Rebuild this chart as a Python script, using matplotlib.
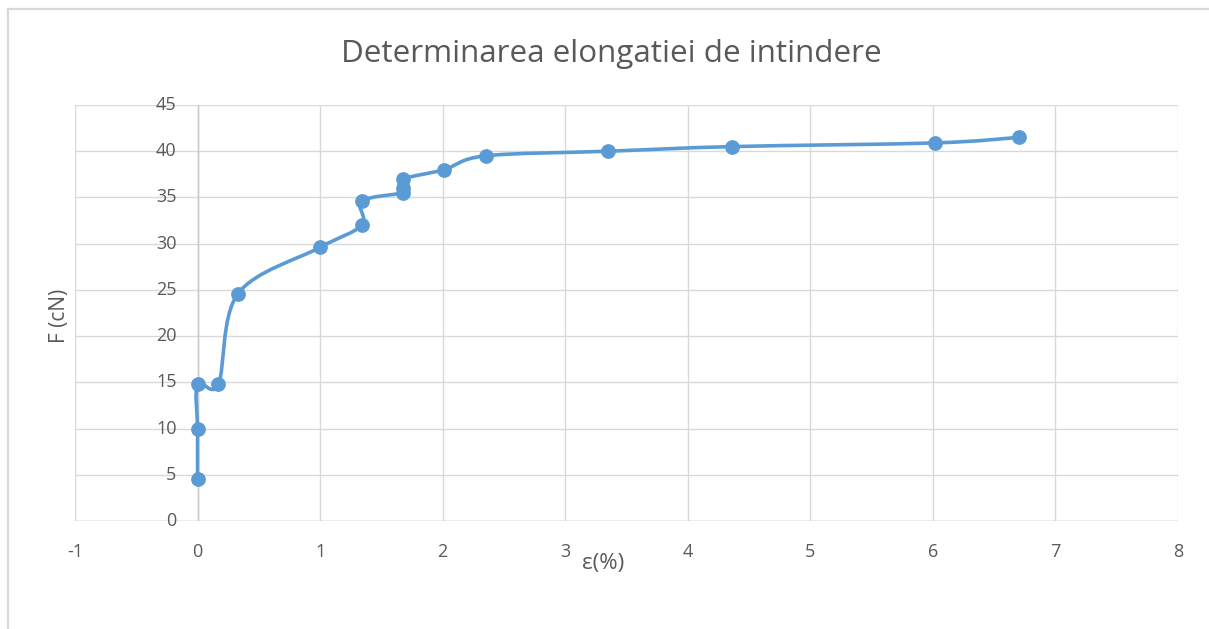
import numpy as np
import matplotlib
matplotlib.use("Agg")
import matplotlib.pyplot as plt
from matplotlib.path import Path
from matplotlib.patches import PathPatch
from matplotlib.lines import Line2D

# Data
eps = [0.0, 0.0, 0.0, 0.17, 0.33, 1.00, 1.34, 1.34, 1.68, 1.68, 1.68, 2.01, 2.35, 3.35, 4.36, 6.02, 6.70]
force = [4.5, 9.9, 14.8, 14.8, 24.6, 29.6, 32.0, 34.6, 35.5, 36.0, 37.0, 38.0, 39.5, 40.0, 40.5, 40.9, 41.5]
x_ticks = [-1, 0, 1, 2, 3, 4, 5, 6, 7, 8]
y_ticks = [0, 5, 10, 15, 20, 25, 30, 35, 40, 45]
title = "Determinarea elongatiei de intindere"
xlabel = "ε(%)"
ylabel = "F (cN)"

BLUE = "#5B9BD5"
GRID = "#D9D9D9"
TXT = "#595959"
FONT = ["Open Sans", "DejaVu Sans"]

W, H = 1209, 629
fig = plt.figure(figsize=(W / 100, H / 100), dpi=100)
ax = fig.add_axes([75 / W, 1 - 521 / H, (1178 - 75) / W, (521 - 105) / H])

ax.set_xlim(-1, 8)
ax.set_ylim(0, 45)
ax.set_xticks(x_ticks)
ax.set_yticks(y_ticks)
ax.set_xticklabels([str(v) for v in x_ticks], fontsize=13, color=TXT, family=FONT)
ax.set_yticklabels([])
ax.tick_params(length=0)
ax.tick_params(axis="x", pad=16)
ax.grid(True, color=GRID, linewidth=1.0)
ax.set_axisbelow(True)
for s in ax.spines.values():
    s.set_visible(False)
# Axis lines (Excel: horizontal axis at y=0, vertical axis at x=0)
ax.axhline(0, color="#C8C8C8", linewidth=1.0, zorder=1)
ax.axvline(0, color="#C8C8C8", linewidth=1.0, zorder=1)

# Y tick labels next to the vertical axis (x = 0)
for v in y_ticks:
    ax.annotate(str(v), xy=(0, v), xytext=(-21, 0), textcoords="offset pixels",
                ha="right", va="center", fontsize=13, color=TXT, family=FONT,
                annotation_clip=False)

# Smoothed line (Catmull-Rom -> cubic Bezier, as Excel smoothing)
x = np.array(eps, dtype=float)
y = np.array(force, dtype=float)
n = len(x)
verts = [(x[0], y[0])]
codes = [Path.MOVETO]
t = 1.0 / 6.0
for i in range(n - 1):
    p0 = np.array([x[max(i - 1, 0)], y[max(i - 1, 0)]])
    p1 = np.array([x[i], y[i]])
    p2 = np.array([x[i + 1], y[i + 1]])
    p3 = np.array([x[min(i + 2, n - 1)], y[min(i + 2, n - 1)]])
    c1 = p1 + (p2 - p0) * t
    c2 = p2 - (p3 - p1) * t
    verts += [tuple(c1), tuple(c2), tuple(p2)]
    codes += [Path.CURVE4, Path.CURVE4, Path.CURVE4]
patch = PathPatch(Path(verts, codes), facecolor="none", edgecolor=BLUE, linewidth=2.6,
                  capstyle="round", joinstyle="round", zorder=3)
ax.add_patch(patch)
ax.plot(x, y, linestyle="none", marker="o", markersize=9.6, color=BLUE, zorder=4)

fig.text(611 / W, 1 - 54 / H, title, ha="center", va="center", fontsize=22.6, color=TXT, family=FONT)
fig.text(603 / W, 1 - 563 / H, xlabel, ha="center", va="center", fontsize=16, color=TXT, family=FONT)
fig.text(59 / W, 1 - 316 / H, ylabel, ha="center", va="center", fontsize=15, color=TXT,
         family=FONT, rotation=90)

# Chart border (top and left visible)
fig.add_artist(Line2D([8 / W, 1.0], [1 - 9 / H, 1 - 9 / H], transform=fig.transFigure,
                      color=GRID, linewidth=1.6))
fig.add_artist(Line2D([8 / W, 8 / W], [0.0, 1 - 9 / H], transform=fig.transFigure,
                      color=GRID, linewidth=1.6))

fig.savefig("out.png", dpi=100, facecolor="white")
